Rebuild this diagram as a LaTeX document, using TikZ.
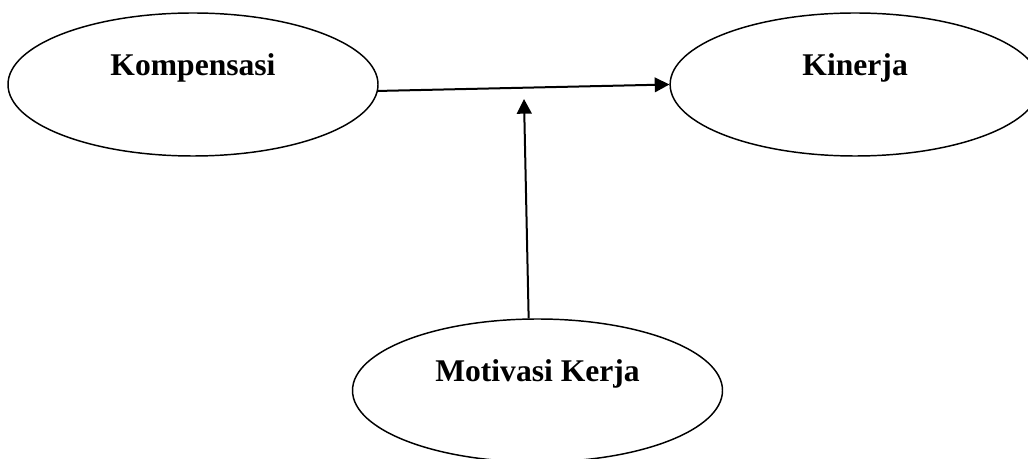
\documentclass[tikz,border=0pt]{standalone}
\usepackage{fontspec}
\setmainfont{Liberation Serif}
\usepackage{tikz}
\usetikzlibrary{arrows.meta, positioning, shapes.geometric}
\tikzstyle{variabel} = [ellipse, draw, line width=1.1pt, inner sep=0pt,
  minimum width=277.5pt, minimum height=107.25pt, text height=17pt, text depth=29.8pt,
  font=\fontsize{23.7}{28}\selectfont\bfseries]
\tikzstyle{arrow} = [line width=1.5pt, -{Triangle[length=11pt, width=11pt]}]

\begin{document}
\begin{tikzpicture}[x=0.75pt, y=-0.75pt]
    \clip (0,0) rectangle (1028,459);
    \node[variabel] (komp) at (193,84.5) {Kompensasi};
    \node[variabel, right=218pt of komp] (kin) {Kinerja};
    \node[variabel] (motiv) at (537.5,390.5) {Motivasi Kerja};
    \coordinate (tengah) at (524,99);
    \draw[arrow] (komp.-2) -- (kin.west);
    \draw[arrow] (motiv.97) -- (tengah);
  \end{tikzpicture}
\end{document}
